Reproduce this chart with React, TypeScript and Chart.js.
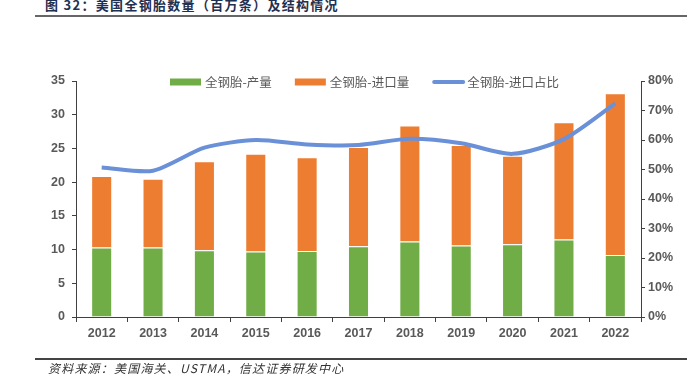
import React, { useEffect, useRef } from "react";
import { Chart, registerables } from "chart.js";

Chart.register(...registerables);

const years = ["2012", "2013", "2014", "2015", "2016", "2017", "2018", "2019", "2020", "2021", "2022"];
const production = [10.3, 10.3, 9.9, 9.7, 9.8, 10.5, 11.2, 10.6, 10.8, 11.5, 9.2];
const imports = [10.6, 10.2, 13.2, 14.5, 13.9, 14.7, 17.2, 14.9, 13.1, 17.4, 24.0];
const importShare = [50.7, 49.6, 57.4, 60.0, 58.5, 58.3, 60.4, 58.9, 55.3, 60.3, 72.4];
const leftTicks = [0, 5, 10, 15, 20, 25, 30, 35];
const rightTicks = [0, 10, 20, 30, 40, 50, 60, 70, 80];

const seriesNames = ["全钢胎-产量", "全钢胎-进口量", "全钢胎-进口占比"];
const titleText = "图 32：美国全钢胎数量（百万条）及结构情况";
const sourceText = "资料来源：美国海关、USTMA，信达证券研发中心";

const GREEN = "#70AD47";
const ORANGE = "#ED7D31";
const BLUE = "#6A90D8";
const AXIS = "#404040";
const LABEL = "#595959";

const legendPlugin = {
  id: "customLegend",
  afterDatasetsDraw(chart: any) {
    const ctx = chart.ctx;
    const area = chart.chartArea;
    ctx.save();
    ctx.font = '12.5px "Noto Sans CJK SC", sans-serif';
    ctx.textBaseline = "middle";
    ctx.textAlign = "left";
    const boxW = 31;
    const gapText = 4;
    const gapItem = 23;
    const widths = chart.data.datasets.map((d: any) => ctx.measureText(d.label).width);
    let total = 0;
    widths.forEach((w: number, i: number) => {
      total += boxW + gapText + w + (i < widths.length - 1 ? gapItem : 0);
    });
    let x = (area.left + area.right) / 2 + 6 - total / 2;
    const y = area.top + 1;
    chart.data.datasets.forEach((d: any, i: number) => {
      if (d.type === "line") {
        ctx.strokeStyle = d.borderColor;
        ctx.lineWidth = 4;
        ctx.lineCap = "round";
        ctx.beginPath();
        ctx.moveTo(x + 2, y);
        ctx.lineTo(x + boxW, y);
        ctx.stroke();
      } else {
        ctx.fillStyle = d.backgroundColor;
        ctx.fillRect(x, y - 3.5, boxW, 7);
      }
      ctx.fillStyle = LABEL;
      ctx.fillText(d.label, x + boxW + gapText, y);
      x += boxW + gapText + widths[i] + gapItem;
    });
    ctx.restore();
  },
};

export default function App() {
  const canvasRef = useRef<HTMLCanvasElement | null>(null);

  useEffect(() => {
    document.body.style.margin = "0";
    const canvas = canvasRef.current;
    if (!canvas) return;
    const tickFont = { family: '"Liberation Sans", Arial, sans-serif', size: 12.5, weight: "bold" as const };
    const chart = new Chart(canvas, {
      type: "bar",
      data: {
        labels: years,
        datasets: [
          {
            type: "bar",
            label: seriesNames[0],
            data: production,
            backgroundColor: GREEN,
            borderColor: "rgba(255,255,255,0.55)",
            borderWidth: 1,
            stack: "s",
            order: 1,
            categoryPercentage: 1,
            barPercentage: 0.41,
          },
          {
            type: "bar",
            label: seriesNames[1],
            data: imports,
            backgroundColor: ORANGE,
            borderColor: "rgba(255,255,255,0.55)",
            borderWidth: 1,
            stack: "s",
            order: 1,
            categoryPercentage: 1,
            barPercentage: 0.41,
          },
          {
            type: "line",
            label: seriesNames[2],
            data: importShare,
            yAxisID: "y1",
            borderColor: BLUE,
            backgroundColor: BLUE,
            borderWidth: 4,
            pointRadius: 0,
            tension: 0.25,
            order: 0,
          } as any,
        ],
      },
      options: {
        responsive: false,
        animation: false,
        layout: { padding: { top: 81, left: 0, right: 0, bottom: 0 } },
        plugins: {
          legend: { display: false },
          tooltip: { enabled: false },
        },
        scales: {
          x: {
            stacked: true,
            afterFit: (s: any) => {
              s.height = 60;
            },
            grid: { offset: true, drawOnChartArea: false, drawTicks: true, tickLength: 5, color: AXIS },
            border: { display: true, color: AXIS, width: 1 },
            ticks: { color: LABEL, font: tickFont, padding: 4, maxRotation: 0 },
          },
          y: {
            stacked: true,
            min: leftTicks[0],
            max: leftTicks[leftTicks.length - 1],
            afterFit: (s: any) => {
              s.width = 76;
            },
            afterBuildTicks: (s: any) => {
              s.ticks = leftTicks.map((v) => ({ value: v }));
            },
            grid: { drawOnChartArea: false, drawTicks: true, tickLength: 4, color: AXIS },
            border: { display: true, color: AXIS, width: 1 },
            ticks: { color: LABEL, font: tickFont, padding: 7 },
          },
          y1: {
            position: "right",
            min: rightTicks[0],
            max: rightTicks[rightTicks.length - 1],
            afterFit: (s: any) => {
              s.width = 46;
            },
            afterBuildTicks: (s: any) => {
              s.ticks = rightTicks.map((v) => ({ value: v }));
            },
            grid: { drawOnChartArea: false, drawTicks: true, tickLength: 4, color: AXIS },
            border: { display: true, color: AXIS, width: 1 },
            ticks: { color: LABEL, font: tickFont, padding: 3, callback: (v: any) => v + "%" },
          },
        },
      },
      plugins: [legendPlugin],
    });
    return () => chart.destroy();
  }, []);

  return (
    <div style={{ position: "fixed", left: 0, top: 0, width: 687, height: 377, background: "#fff", overflow: "hidden" }}>
      <div
        style={{
          position: "absolute",
          left: 45,
          top: -3,
          fontFamily: '"Noto Sans CJK SC", sans-serif',
          fontWeight: 700,
          fontSize: 13,
          letterSpacing: "1.3px",
          color: "#1F3050",
          whiteSpace: "nowrap",
          lineHeight: "16px",
        }}
      >
        {titleText}
      </div>
      <div style={{ position: "absolute", left: 35, right: 0, top: 15, height: 2, background: "#666" }} />
      <canvas ref={canvasRef} width={687} height={377} style={{ position: "absolute", left: 0, top: 0 }} />
      <div style={{ position: "absolute", left: 35, right: 0, top: 358, height: 2, background: "#444" }} />
      <div
        style={{
          position: "absolute",
          left: 48,
          top: 361,
          fontFamily: '"Noto Sans CJK SC", sans-serif',
          fontStyle: "italic",
          fontSize: 12,
          letterSpacing: "1.2px",
          color: "#333",
          whiteSpace: "nowrap",
          lineHeight: "14px",
        }}
      >
        {sourceText}
      </div>
    </div>
  );
}
